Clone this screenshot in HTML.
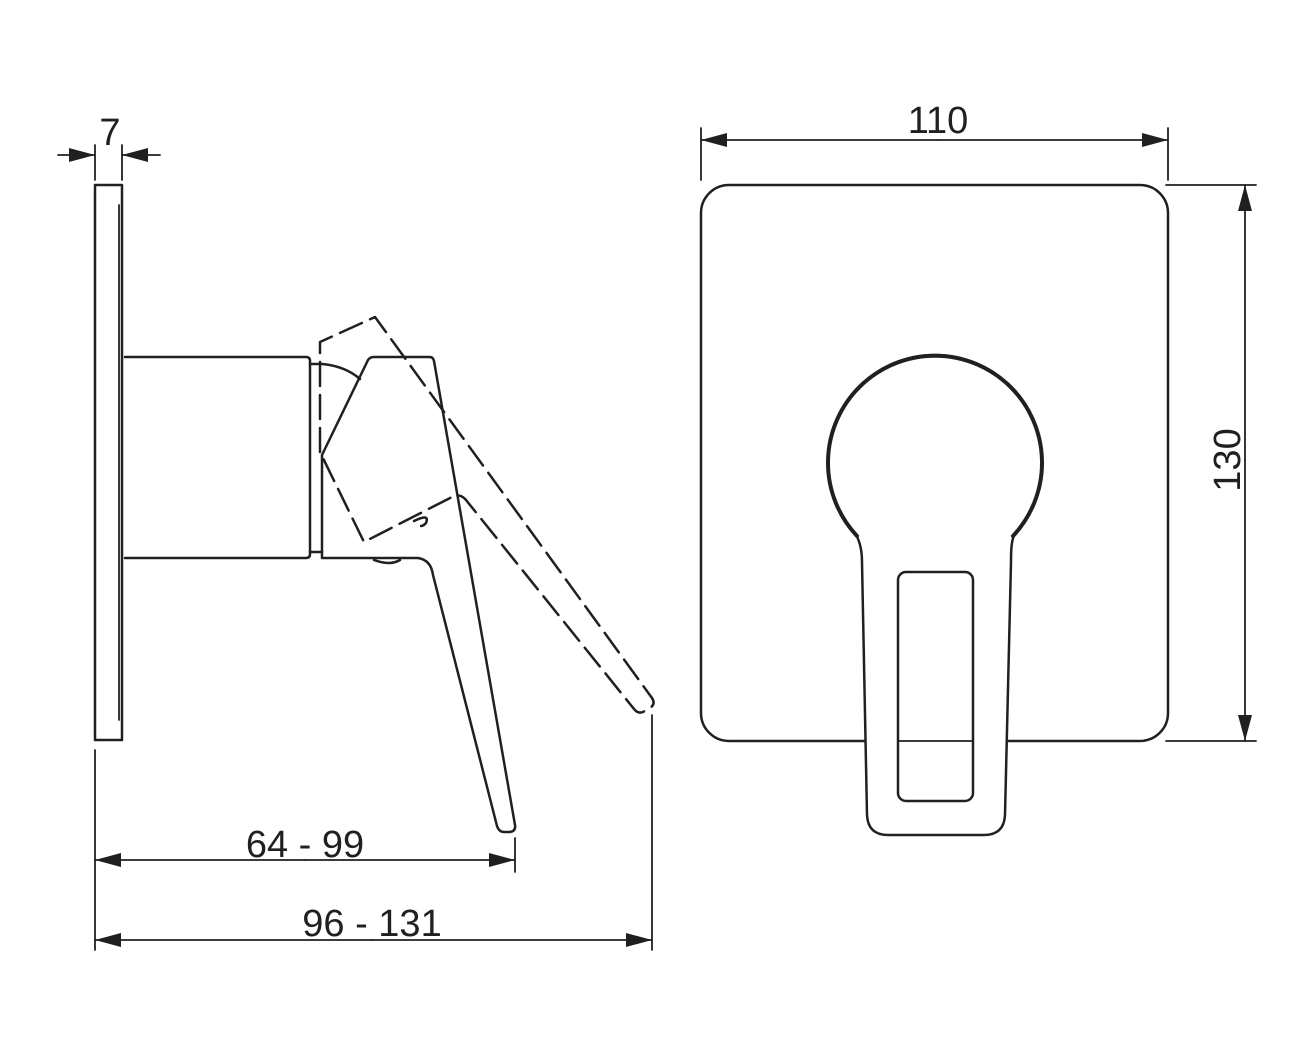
<!DOCTYPE html>
<html><head><style>body{margin:0;background:#fff}svg{display:block}</style></head><body>
<svg width="1311" height="1055" viewBox="0 0 1311 1055" xmlns="http://www.w3.org/2000/svg" font-family="Liberation Sans, sans-serif" fill="none" stroke="#231f20" stroke-width="2.5" stroke-linejoin="round" stroke-linecap="round">
<defs>
<marker id="a" viewBox="0 0 26 14" refX="26" refY="7" markerWidth="26" markerHeight="14" markerUnits="userSpaceOnUse" orient="auto"><path d="M0 0 L26 7 L0 14 Z" fill="#231f20" stroke="none"/></marker>
</defs>
<line x1="58" y1="155" x2="95" y2="155" marker-end="url(#a)" stroke-width="1.8"/>
<line x1="160" y1="155" x2="122" y2="155" marker-end="url(#a)" stroke-width="1.8"/>
<line x1="95" y1="145" x2="95" y2="180" stroke-width="1.8"/>
<line x1="122" y1="145" x2="122" y2="180" stroke-width="1.8"/>
<text x="110" y="145" font-size="38" fill="#231f20" stroke="none" text-anchor="middle">7</text>
<path d="M95 185 L122 185 L122 740 L95 740 Z"/>
<line x1="119" y1="205" x2="119" y2="720" stroke-width="1.8"/>
<path d="M125 357 L306 357 Q310 357 310 361 L310 554 Q310 558 306 558 L125 558"/>
<path d="M310 364 L322 364 M310 552 L322 552"/>
<path d="M322 364 Q345 366 360 379"/>
<path d="M322 558 L322 455 L368 360 Q370 357 374 357 L430 357 Q433 357 434 361 L515 825 Q516 831 510 832 L504 832 Q499 832 497 826 L433 575 Q431 560 418 558 L322 558"/>
<path d="M374 560 Q390 566 400 560"/>
<g stroke-dasharray="24 9">
<path d="M320 452 L320 342 L375 317 L652 698 Q656 704 650 708 L643 712 Q638 714 634 709 L466 500 Q460 493 452 497 L364 542 L320 452"/>
<path d="M414 521 Q430 513 426 523 Q420 530 414 521"/>
</g>
<line x1="652" y1="715" x2="652" y2="950" stroke-width="1.8"/>
<line x1="95" y1="750" x2="95" y2="950" stroke-width="1.8"/>
<line x1="515" y1="838" x2="515" y2="872" stroke-width="1.8"/>
<line x1="305" y1="860" x2="95" y2="860" marker-end="url(#a)" stroke-width="1.8"/>
<line x1="305" y1="860" x2="515" y2="860" marker-end="url(#a)" stroke-width="1.8"/>
<text x="305" y="857" font-size="38" fill="#231f20" stroke="none" text-anchor="middle">64 - 99</text>
<line x1="372" y1="940" x2="95" y2="940" marker-end="url(#a)" stroke-width="1.8"/>
<line x1="372" y1="940" x2="652" y2="940" marker-end="url(#a)" stroke-width="1.8"/>
<text x="372" y="936" font-size="38" fill="#231f20" stroke="none" text-anchor="middle">96 - 131</text>
<rect x="701" y="185" width="467" height="556" rx="28"/>
<line x1="701" y1="128" x2="701" y2="180" stroke-width="1.8"/>
<line x1="1168" y1="128" x2="1168" y2="180" stroke-width="1.8"/>
<line x1="938" y1="140" x2="701" y2="140" marker-end="url(#a)" stroke-width="1.8"/>
<line x1="938" y1="140" x2="1168" y2="140" marker-end="url(#a)" stroke-width="1.8"/>
<text x="938" y="133" font-size="38" fill="#231f20" stroke="none" text-anchor="middle">110</text>
<line x1="1166" y1="185" x2="1256" y2="185" stroke-width="1.8"/>
<line x1="1166" y1="741" x2="1256" y2="741" stroke-width="1.8"/>
<line x1="1245" y1="460" x2="1245" y2="185" marker-end="url(#a)" stroke-width="1.8"/>
<line x1="1245" y1="460" x2="1245" y2="741" marker-end="url(#a)" stroke-width="1.8"/>
<text x="0" y="0" font-size="38" fill="#231f20" stroke="none" text-anchor="middle" transform="translate(1240 460) rotate(-90)">130</text>
<path d="M855 533 A107 107 0 1 1 1015 533 C1011 541 1011 552 1011 562 L1005 815 Q1004 835 984 835 L888 835 Q868 835 867 815 L862 562 C862 552 860 541 855 533 Z" fill="#fff"/>
<path d="M857 536 A107 107 0 1 1 1013 536" stroke-width="4"/>
<rect x="898" y="572" width="75" height="229" rx="8"/>
<line x1="899" y1="741" x2="972" y2="741" stroke-width="1.8"/>
</svg>
</body></html>
